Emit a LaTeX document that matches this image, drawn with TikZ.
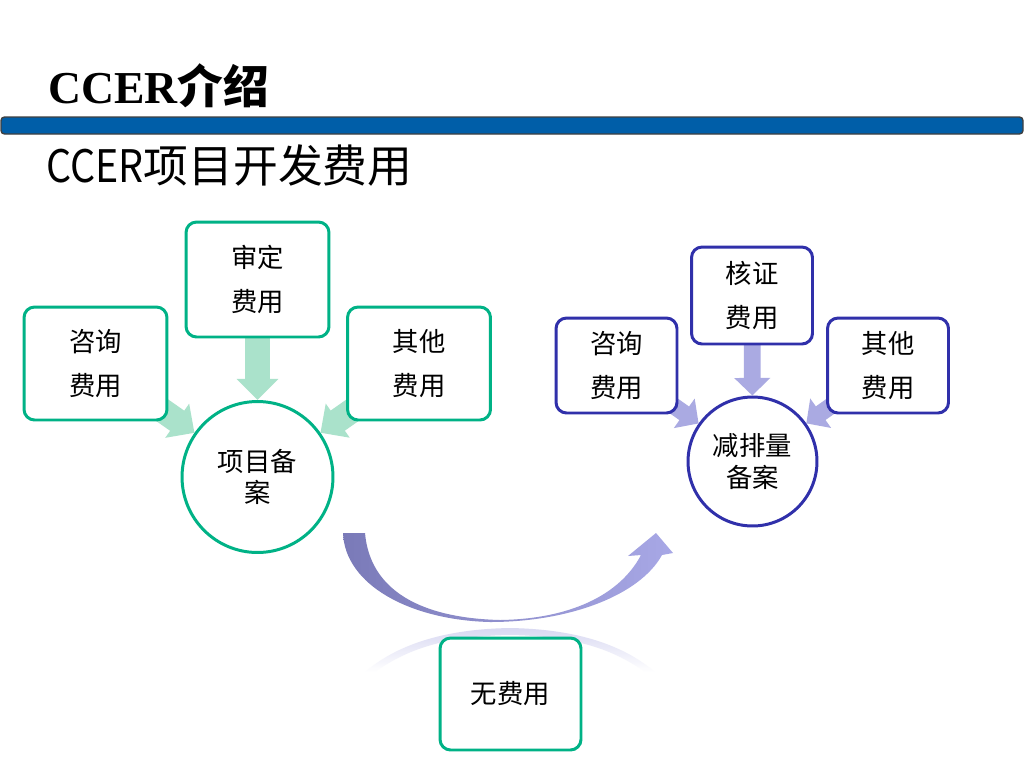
\documentclass[tikz,border=0pt]{standalone}
\usepackage{fontspec}
\setmainfont{Liberation Serif}
\newfontfamily\cjk{Noto Sans CJK SC}
\usetikzlibrary{arrows.meta,backgrounds}

\definecolor{ggreen}{RGB}{0,178,134}
\definecolor{lgreen}{RGB}{170,226,203}
\definecolor{bblue}{RGB}{48,48,170}
\definecolor{lblue}{RGB}{170,170,226}
\definecolor{barblue}{RGB}{0,94,168}
\definecolor{darkarc}{RGB}{122,122,184}
\definecolor{lightarc}{RGB}{168,168,230}

\tikzset{
    gbox/.style={draw=ggreen, line width=1.7pt, rounded corners=6pt, fill=white,
        minimum width=2.86cm, minimum height=2.26cm, inner sep=0pt, align=center,
        font=\cjk\fontsize{15}{25.5}\selectfont},
    bbox/.style={draw=bblue, line width=1.7pt, rounded corners=6pt, fill=white,
        minimum width=2.42cm, minimum height=1.9cm, inner sep=0pt, align=center,
        font=\cjk\fontsize{15}{25.5}\selectfont},
    gcirc/.style={circle, draw=ggreen, line width=1.7pt, fill=white,
        minimum size=3.02cm, inner sep=0pt, align=center,
        font=\cjk\fontsize{15}{18}\selectfont},
    bcirc/.style={circle, draw=bblue, line width=1.7pt, fill=white,
        minimum size=2.58cm, inner sep=0pt, align=center,
        font=\cjk\fontsize{15}{18}\selectfont},
    garrow/.style={draw=lgreen, line width=14pt, -{Triangle[length=12pt,width=23pt]}},
    barrow/.style={draw=lblue, line width=9.5pt, -{Triangle[length=10pt,width=20pt]}}
}

\begin{document}
\begin{tikzpicture}[x=0.02cm, y=-0.02cm]
    \useasboundingbox (0,0) rectangle (1024,768);

    \node[anchor=west, inner sep=0pt, font=\fontsize{26}{30}\selectfont\bfseries] (title) at (48,86) {CCER{\cjk 介绍}};
    \draw[fill=barblue, draw=black!75, line width=0.8pt, rounded corners=2pt] (1,117) rectangle (1023,134);
    \node[anchor=west, inner sep=0pt, font=\cjk\fontsize{25.5}{28}\selectfont] (sub) at (46,165) {\scalebox{0.88}[1]{CCER}项目开发费用};

    \node[gbox] (zixun1) at (95.5,363.5) {咨询\\费用};
    \node[gbox, minimum height=2.3cm] (shending) at (257.5,279.5) {审定\\费用};
    \node[gbox] (qita1) at (419,363.5) {其他\\费用};
    \node[gcirc] (beian) at (257.5,477) {项目备\\案};

    \node[bbox] (zixun2) at (616.5,365.5) {咨询\\费用};
    \node[bbox, minimum height=1.94cm] (hezheng) at (752,295.5) {核证\\费用};
    \node[bbox] (qita2) at (888,365.5) {其他\\费用};
    \node[bcirc] (jianpai) at (752.5,461.5) {减排量\\备案};

    \node[gbox, minimum width=2.82cm, minimum height=2.24cm] (wu) at (510.5,694) {无费用};

    \begin{scope}[on background layer]
        \fill[white] (0,0) rectangle (1024,768);

        \draw[garrow] (zixun1.center) -- (beian);
        \draw[garrow] (shending.center) -- (beian);
        \draw[garrow] (qita1.center) -- (beian);

        \draw[barrow] (zixun2.center) -- (jianpai);
        \draw[barrow] (hezheng.center) -- (jianpai);
        \draw[barrow] (qita2.center) -- (jianpai);

        \shade[left color=darkarc, right color=lightarc]
            (343,533) .. controls (345,585) and (410,620) .. (490,622)
            .. controls (570,622) and (640,595) .. (662,555)
            -- (673,553) -- (656,533) -- (628,556) -- (641,555)
            .. controls (620,595) and (570,619) .. (500,620)
            .. controls (420,618) and (370,590) .. (365,533) -- cycle;

        \shade[top color=lblue!45, bottom color=white]
            (365,672) .. controls (400,642) and (450,629) .. (510,628)
            .. controls (570,629) and (620,642) .. (655,672)
            -- (645,672) .. controls (610,647) and (570,636) .. (510,635)
            .. controls (450,636) and (410,647) .. (375,672) -- cycle;
    \end{scope}
\end{tikzpicture}
\end{document}
